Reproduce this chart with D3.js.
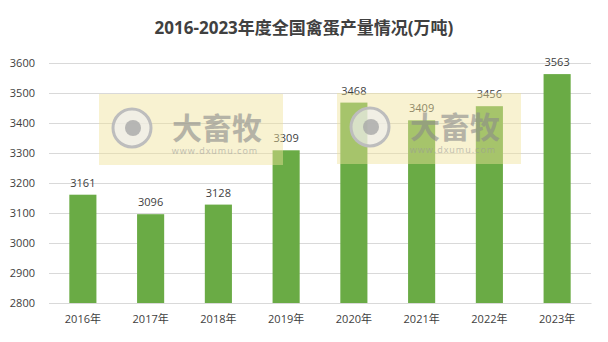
<!DOCTYPE html>
<html>
<head>
<meta charset="utf-8">
<script src="https://cdn.jsdelivr.net/npm/d3@7"></script>
<style>
  body { margin: 0; background: #fff; }
  text { font-family: "Open Sans", "Noto Sans CJK SC", sans-serif; }
</style>
</head>
<body>
<script>
// data
const years = ['2016年', '2017年', '2018年', '2019年', '2020年', '2021年', '2022年', '2023年'];
const output = [3161, 3096, 3128, 3309, 3468, 3409, 3456, 3563];
const yTicks = [2800, 2900, 3000, 3100, 3200, 3300, 3400, 3500, 3600];

const W = 608, H = 342;
const M = { left: 49, right: 17, top: 63, bottom: 39 };

const svg = d3.select('body').append('svg')
  .attr('width', W)
  .attr('height', H);

// scales
const xScale = d3.scaleBand()
  .domain(years)
  .range([M.left, W - M.right])
  .paddingInner(0.6)
  .paddingOuter(0.3);
const yScale = d3.scaleLinear()
  .domain([2800, 3600])
  .range([H - M.bottom, M.top]);

// title
svg.append('text')
  .attr('x', 304)
  .attr('y', 34)
  .attr('text-anchor', 'middle')
  .attr('font-size', 17)
  .attr('font-weight', 'bold')
  .attr('fill', '#404040')
  .text('2016-2023年度全国禽蛋产量情况(万吨)');

// gridlines + y labels
let yAxis = d3.axisLeft(yScale)
  .tickValues(yTicks)
  .tickSize(-(W - M.left - M.right))
  .tickPadding(14)
  .tickFormat(d3.format('d'));
const gy = svg.append('g')
  .attr('transform', `translate(${M.left},0)`)
  .call(yAxis);
gy.select('.domain').remove();
gy.selectAll('line').attr('stroke', '#d9d9d9');
gy.selectAll('text').attr('fill', '#404040').attr('font-size', 11);

// x axis
let xAxis = d3.axisBottom(xScale).tickSize(0).tickPadding(12);
const gx = svg.append('g')
  .attr('transform', `translate(0,${H - M.bottom})`)
  .call(xAxis);
gx.select('.domain').attr('stroke', '#d9d9d9');
gx.selectAll('text').attr('fill', '#404040').attr('font-size', 11);

// bars
svg.selectAll('rect.bar')
  .data(output)
  .enter()
  .append('rect')
  .attr('class', 'bar')
  .attr('x', (d, i) => xScale(years[i]))
  .attr('y', d => yScale(d))
  .attr('width', xScale.bandwidth())
  .attr('height', d => yScale(2800) - yScale(d))
  .attr('fill', '#6aab45');

// value labels
svg.selectAll('text.val')
  .data(output)
  .enter()
  .append('text')
  .attr('class', 'val')
  .attr('x', (d, i) => xScale(years[i]) + xScale.bandwidth() / 2)
  .attr('y', d => yScale(d) - 8)
  .attr('text-anchor', 'middle')
  .attr('font-size', 11)
  .attr('fill', '#404040')
  .text(d => d);

// watermarks
function watermark(x, y) {
  const g = svg.append('g').attr('transform', `translate(${x},${y})`);
  g.append('rect')
    .attr('width', 184).attr('height', 71)
    .attr('fill', '#efe39a').attr('opacity', 0.45);
  g.append('circle')
    .attr('cx', 33).attr('cy', 34).attr('r', 19)
    .attr('fill', '#eeeeee').attr('fill-opacity', 0.7)
    .attr('stroke', '#bdbdbd').attr('stroke-width', 3);
  g.append('circle')
    .attr('cx', 34).attr('cy', 34).attr('r', 8)
    .attr('fill', '#a8a8a8').attr('opacity', 0.8);
  g.append('text')
    .attr('x', 118).attr('y', 45)
    .attr('text-anchor', 'middle')
    .attr('font-size', 30).attr('font-weight', 'bold')
    .attr('fill', '#8a8a8a').attr('opacity', 0.6)
    .text('大畜牧');
  g.append('text')
    .attr('x', 116).attr('y', 60)
    .attr('text-anchor', 'middle')
    .attr('font-size', 9)
    .attr('letter-spacing', 1)
    .attr('fill', '#9a9a9a').attr('opacity', 0.6)
    .text('www.dxumu.com');
}
watermark(99, 94);
watermark(337, 93);
</script>
</body>
</html>
